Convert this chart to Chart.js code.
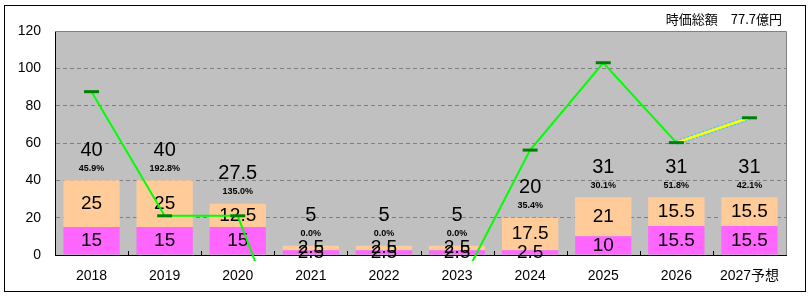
<!DOCTYPE html>
<html>
<head>
<meta charset="utf-8">
<script src="https://cdn.jsdelivr.net/npm/chart.js@4/dist/chart.umd.min.js"></script>
<style>
html,body{margin:0;padding:0;background:#fff;}
canvas{display:block;}
</style>
</head>
<body>
<canvas id="c" width="809" height="296"></canvas>
<script>
const categories = ['2018','2019','2020','2021','2022','2023','2024','2025','2026','2027予想'];
const lowerValues = [15, 15, 15, 2.5, 2.5, 2.5, 2.5, 10, 15.5, 15.5];
const upperValues = [25, 25, 12.5, 2.5, 2.5, 2.5, 17.5, 21, 15.5, 15.5];
const totalValues = [40, 40, 27.5, 5, 5, 5, 20, 31, 31, 31];
const percentLabels = ['45.9%','192.8%','135.0%','0.0%','0.0%','0.0%','35.4%','30.1%','51.8%','42.1%'];
const lineValues = [87.5, 21, 21, -82, -50, -19.3, 56.2, 103, 60.2, 73.5];
const forecastValues = [null, null, null, null, null, null, null, null, 60.2, 73.5];
const yTickValues = [0, 20, 40, 60, 80, 100, 120];
const titleText = '時価総額\u300077.7億円';

const FONT = "'Liberation Sans', 'Noto Sans CJK JP', sans-serif";
const JFONT = "'Noto Sans CJK JP', sans-serif";

const decor = {
  id: 'decor',
  beforeDraw(chart) {
    const ctx = chart.ctx, a = chart.chartArea;
    ctx.save();
    ctx.fillStyle = '#ffffff';
    ctx.fillRect(0, 0, chart.width, chart.height);
    ctx.fillStyle = '#c0c0c0';
    ctx.fillRect(a.left, a.top, a.right - a.left, a.bottom - a.top);
    ctx.strokeStyle = '#000';
    ctx.lineWidth = 1;
    ctx.strokeRect(4.5, 5.5, 801, 286);
    ctx.fillStyle = '#000';
    ctx.font = '13px ' + JFONT;
    ctx.textAlign = 'right';
    ctx.textBaseline = 'middle';
    ctx.fillText(titleText, 782, 19);
    ctx.restore();
  },
  afterDatasetDraw(chart, args) {
    if (args.index !== 0) return;
    const ctx = chart.ctx;
    const m0 = chart.getDatasetMeta(0);
    const y = chart.scales.y;
    ctx.save();
    ctx.fillStyle = '#000';
    ctx.textAlign = 'center';
    ctx.textBaseline = 'middle';
    categories.forEach((c, i) => {
      const x = m0.data[i].x;
      ctx.font = '19px ' + FONT;
      const yl = y.getPixelForValue(lowerValues[i] / 2);
      ctx.fillText(String(lowerValues[i]), x, yl);
      const yu = y.getPixelForValue(lowerValues[i] + upperValues[i] / 2);
      ctx.fillText(String(upperValues[i]), x, yu);
      const top = y.getPixelForValue(totalValues[i]);
      ctx.font = '20px ' + FONT;
      ctx.fillText(String(totalValues[i]), x, top - 30);
      ctx.font = 'bold 9px ' + FONT;
      ctx.fillText(percentLabels[i], x, top - 12);
    });
    ctx.restore();
  },
  afterDraw(chart) {
    const ctx = chart.ctx, a = chart.chartArea;
    ctx.save();
    ctx.strokeStyle = '#808080';
    ctx.lineWidth = 1;
    ctx.beginPath();
    ctx.moveTo(a.left, a.top + 0.5);
    ctx.lineTo(a.right + 0.5, a.top + 0.5);
    ctx.lineTo(a.right + 0.5, a.bottom);
    ctx.stroke();
    ctx.strokeStyle = '#000';
    const n = categories.length;
    const w = (a.right - a.left) / n;
    ctx.beginPath();
    for (let i = 1; i < n; i++) {
      const x = Math.round(a.left + i * w) + 0.5;
      ctx.moveTo(x, a.bottom);
      ctx.lineTo(x, a.bottom - 4);
    }
    ctx.stroke();
    ctx.restore();
  }
};

new Chart(document.getElementById('c'), {
  data: {
    labels: categories,
    datasets: [
      { type: 'bar', data: lowerValues, backgroundColor: '#ff66ff', stack: 's', order: 2,
        barPercentage: 0.77, categoryPercentage: 1 },
      { type: 'bar', data: upperValues, backgroundColor: '#ffcc99', stack: 's', order: 3,
        barPercentage: 0.77, categoryPercentage: 1 },
      { type: 'line', data: forecastValues, stack: 'forecast', borderColor: '#33ccff', borderWidth: 5,
        borderDash: [2, 2], pointRadius: 0, order: 1, spanGaps: false,
        clip: { left: 0, top: 0, right: 0, bottom: 6 } },
      { type: 'line', data: lineValues, stack: 'main', borderColor: '#00ff00', borderWidth: 2,
        pointStyle: 'line', pointRadius: 7.5, pointBorderWidth: 3,
        pointBorderColor: '#008000', pointBackgroundColor: '#008000', order: 0,
        clip: { left: 0, top: 0, right: 0, bottom: 6 },
        segment: { borderColor: ctx => ctx.p1DataIndex === categories.length - 1 ? '#ffff00' : '#00ff00',
                   borderWidth: ctx => ctx.p1DataIndex === categories.length - 1 ? 2.5 : 2 } }
    ]
  },
  options: {
    responsive: false,
    animation: false,
    devicePixelRatio: 1,
    layout: { padding: { left: 5, right: 23, top: 31, bottom: 4 } },
    plugins: { legend: { display: false }, tooltip: { enabled: false } },
    scales: {
      x: {
        stacked: true,
        grid: { display: false, drawTicks: false },
        border: { display: true, color: '#000', width: 1 },
        ticks: { color: '#000', font: { size: 14, family: FONT }, padding: 13, maxRotation: 0 },
        afterFit(s) { s.height = 37; }
      },
      y: {
        stacked: true,
        min: 0, max: 120,
        afterBuildTicks(s) { s.ticks = yTickValues.map(v => ({ value: v })); },
        grid: { color: '#808080', drawTicks: false, tickLength: 0 },
        border: { display: true, color: '#000', width: 1, dash: [4, 3] },
        ticks: { color: '#000', font: { size: 14, family: FONT }, padding: 14 },
        afterFit(s) { s.width = 50; }
      }
    }
  },
  plugins: [decor]
});
</script>
</body>
</html>
